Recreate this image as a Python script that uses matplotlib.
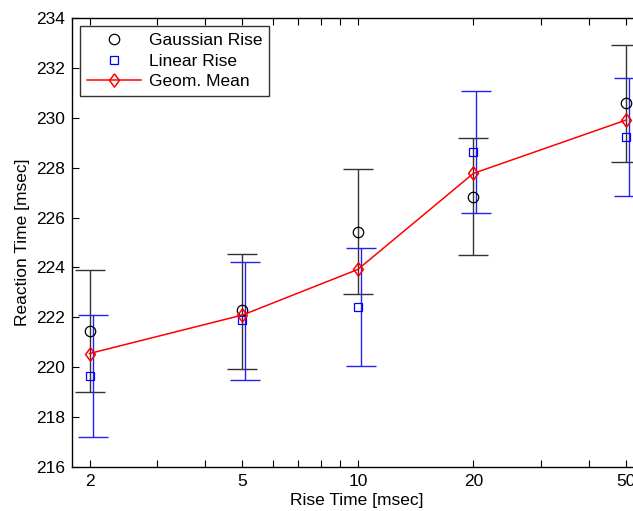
import numpy as np
import matplotlib
matplotlib.use("Agg")
import matplotlib.pyplot as plt
from matplotlib.ticker import FixedLocator, FixedFormatter, LogLocator, NullFormatter

plt.rcParams['font.family'] = ['Liberation Sans', 'DejaVu Sans']

rise_time = [2, 5, 10, 20, 50]

# Gaussian rise: mean and error bar limits
gauss_mean = [221.45, 222.29, 225.43, 226.84, 230.58]
gauss_hi = [223.9, 224.54, 227.93, 229.18, 232.92]
gauss_lo = [219.0, 219.93, 222.92, 224.5, 228.24]

# Linear rise
lin_mean = [219.66, 221.89, 222.4, 228.64, 229.24]
lin_hi = [222.1, 224.2, 224.78, 231.09, 231.58]
lin_lo = [217.21, 219.5, 220.03, 226.19, 226.86]

# Geometric mean
geom_mean = [220.55, 222.09, 223.92, 227.77, 229.91]

fig = plt.figure(figsize=(6.33, 5.11), dpi=100)
ax = fig.add_axes([72/633, 44/511, 570/633, 449/511])

x = np.array(rise_time, dtype=float)
g = np.array(gauss_mean)
l = np.array(lin_mean)

ax.errorbar(x, g, yerr=[g - np.array(gauss_lo), np.array(gauss_hi) - g],
            fmt='none', ecolor='#333333', elinewidth=1.0, capsize=11, capthick=1.0)
ax.errorbar(x * 1.018, l, yerr=[l - np.array(lin_lo), np.array(lin_hi) - l],
            fmt='none', ecolor='#2222ee', elinewidth=1.0, capsize=11, capthick=1.0)

diamond = [(0, 1), (0.75, 0), (0, -1), (-0.75, 0), (0, 1)]
ax.plot(x, g, 'o', mfc='none', mec='black', ms=7.5, mew=0.9, label='Gaussian Rise')
ax.plot(x, l, 's', mfc='none', mec='blue', ms=6, mew=0.9, label='Linear Rise')
ax.plot(x, geom_mean, '-', color='red', lw=1.1, marker=diamond, mfc='none', mec='red',
        ms=9.5, mew=1.1, label='Geom. Mean')

ax.set_xscale('log')
ax.set_xlim(1.8, 55)
ax.set_ylim(216, 234)
ax.xaxis.set_major_locator(FixedLocator(rise_time))
ax.xaxis.set_major_formatter(FixedFormatter([str(v) for v in rise_time]))
ax.xaxis.set_minor_locator(LogLocator(base=10, subs=np.arange(2, 10)))
ax.xaxis.set_minor_formatter(NullFormatter())
ax.set_yticks(np.arange(216, 235, 2))

ax.tick_params(which='both', direction='in', top=True, right=True, length=5,
               width=0.8, labelsize=12.5, pad=5)
for s in ax.spines.values():
    s.set_linewidth(1.0)

ax.set_xlabel('Rise Time [msec]', fontsize=12.5, labelpad=3)
ax.set_ylabel('Reaction Time [msec]', fontsize=12.5, labelpad=4)

leg = ax.legend(loc='upper left', fontsize=12.5, frameon=True, fancybox=False,
                edgecolor='black', borderpad=0.4, labelspacing=0.3,
                handlelength=3.1, handletextpad=0.45, borderaxespad=0.47)
leg.get_frame().set_linewidth(1.0)

fig.savefig('out.png', dpi=100)
